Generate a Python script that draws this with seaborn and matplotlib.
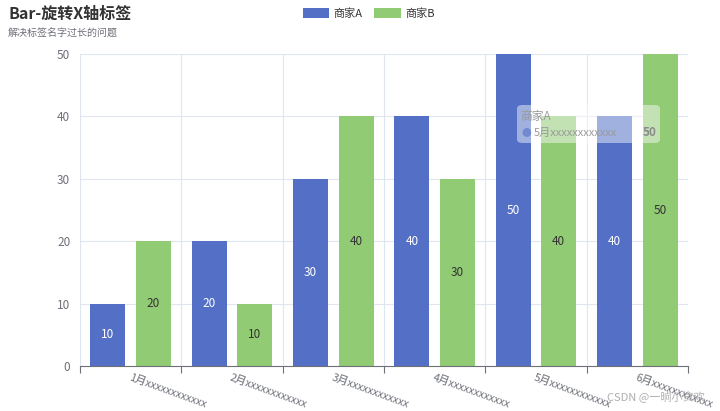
import numpy as np
import pandas as pd
import matplotlib
matplotlib.use('Agg')
import matplotlib.pyplot as plt
import matplotlib.transforms as mtransforms
from matplotlib.patches import FancyBboxPatch
import seaborn as sns

months = ['1月xxxxxxxxxxxx', '2月xxxxxxxxxxxx', '3月xxxxxxxxxxxx',
          '4月xxxxxxxxxxxx', '5月xxxxxxxxxxxx', '6月xxxxxxxxxxxx']
shop_a = [10, 20, 30, 40, 50, 40]
shop_b = [20, 10, 40, 30, 40, 50]
series = ['商家A', '商家B']
colors = ['#5470c6', '#91cc75']

df = pd.DataFrame({
    'month': months * 2,
    'value': shop_a + shop_b,
    'shop': [series[0]] * len(months) + [series[1]] * len(months),
})

sns.set_theme(style='white')
plt.rcParams['font.family'] = ['Noto Sans CJK SC', 'DejaVu Sans']

fig = plt.figure(figsize=(7.2, 4.11), dpi=100)
ax = fig.add_axes([80 / 720, 45 / 411, 608 / 720, 312 / 411])

sns.barplot(data=df, x='month', y='value', hue='shop', palette=colors,
            width=0.9, gap=0.23, saturation=1, linewidth=0, ax=ax, legend=True)

# labels in the middle of the bars
label_colors = ['white', '#333333']
for cont, c in zip(ax.containers, label_colors):
    ax.bar_label(cont, label_type='center', color=c, fontsize=8.5)

ax.set_xlim(-0.5, len(months) - 0.5)
ax.set_ylim(0, 50)
ax.set_yticks(range(0, 51, 10))
ax.set_xlabel('')
ax.set_ylabel('')

grid_c = '#e0e6f1'
for y in range(10, 51, 10):
    ax.axhline(y, color=grid_c, lw=0.8, zorder=0)
for x in np.arange(-0.5, len(months), 1):
    ax.axvline(x, color=grid_c, lw=0.8, zorder=0)

ax.set_xticks(np.arange(-0.5, len(months), 1))
ax.set_xticklabels([''] * (len(months) + 1))
ax.tick_params(axis='x', length=5, width=0.8, color='#6e7079', bottom=True)
ax.tick_params(axis='y', length=0, pad=7, labelsize=8.5, labelcolor='#6e7079')
for s in ['top', 'right', 'left']:
    ax.spines[s].set_visible(False)
ax.spines['bottom'].set_color('#6e7079')
ax.spines['bottom'].set_linewidth(0.8)

# rotated long category labels
trans = mtransforms.blended_transform_factory(ax.transData, ax.transAxes)
trans = mtransforms.offset_copy(trans, fig=fig, x=0, y=-6, units='dots')
for i, m in enumerate(months):
    ax.text(i, 0, m, transform=trans, rotation=-20, rotation_mode='anchor',
            ha='left', va='top', fontsize=7.8, color='#6e7079')

# legend
handles, labels = ax.get_legend_handles_labels()
ax.legend_.remove()
fig.legend(handles, labels, loc='center', bbox_to_anchor=(0.512, 0.968), ncol=2,
           frameon=False, handlelength=2.4, handleheight=1.1, columnspacing=1.0,
           handletextpad=0.4, fontsize=8, labelcolor='#333333')

# title
fig.text(8 / 720, 1 - 14 / 411, 'Bar-旋转X轴标签', fontsize=11.5, fontweight='bold',
         color='#333333', va='center', ha='left')
fig.text(8 / 720, 1 - 34 / 411, '解决标签名字过长的问题', fontsize=7.2,
         color='#6e7079', va='center', ha='left')

# tooltip left on screen
tip = FancyBboxPatch((517 / 720, 1 - 143 / 411), 143 / 720, 38 / 411,
                     boxstyle='round,pad=0,rounding_size=0.008',
                     transform=fig.transFigure, facecolor='white', alpha=0.45,
                     edgecolor='none', zorder=5)
fig.patches.append(tip)
fig.text(520 / 720, 1 - 116 / 411, '商家A', fontsize=8.5, color='#9a9a9a',
         va='center', zorder=6)
fig.text(521 / 720, 1 - 133 / 411, '●', fontsize=7, color='#5470c6', alpha=0.6,
         va='center', zorder=6)
fig.text(534 / 720, 1 - 133 / 411, '5月xxxxxxxxxxxx', fontsize=8, color='#9a9a9a',
         va='center', zorder=6)
fig.text(650 / 720, 1 - 133 / 411, '50', fontsize=8.5, fontweight='bold',
         color='#8a8a8a', va='center', ha='center', zorder=6)

fig.text(705 / 720, 1 - 397 / 411, 'CSDN @一晌小贪欢', fontsize=8, color='#9a9a9a',
         alpha=0.8, ha='right', va='center')

fig.savefig('out.png', dpi=100)
